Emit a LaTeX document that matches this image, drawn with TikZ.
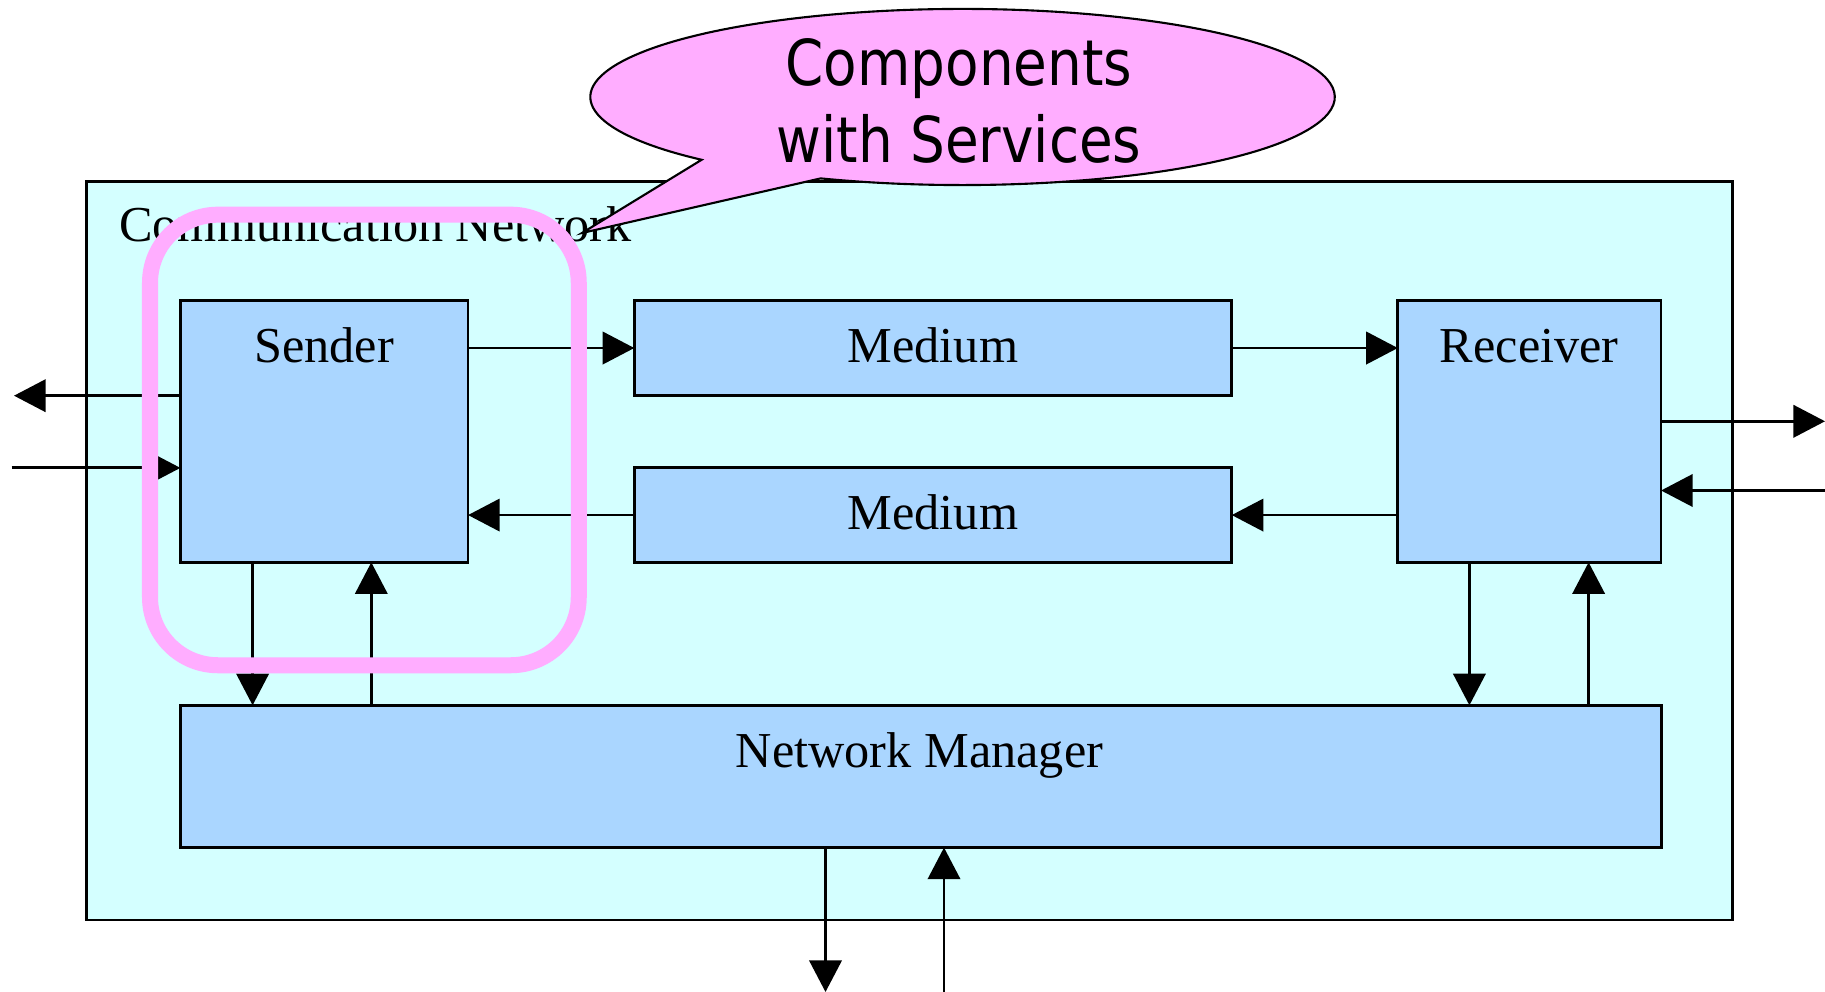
\documentclass[tikz,border=0pt]{standalone}
\usepackage{fontspec}
\setmainfont{Liberation Serif}
\newfontfamily\bubblefont[FakeStretch=0.866]{DejaVu Sans}
\usetikzlibrary{arrows.meta,calc}
\definecolor{netbg}{HTML}{D4FFFF}
\definecolor{boxfill}{HTML}{AAD6FF}
\definecolor{hilite}{HTML}{FFADFF}

\begin{document}
\begin{tikzpicture}[x=0.01cm,y=0.01cm,
  frame/.style={draw=black, line width=0.8pt, inner sep=0pt, outer sep=0pt, anchor=north west},
  box/.style={frame, fill=boxfill},
  lbl/.style={font=\fontsize{14.3}{17}\selectfont, anchor=base, inner sep=0pt},
  arr/.style={line width=0.8pt, -{Triangle[length=9pt,width=9.2pt]}}]

\useasboundingbox (0,0) rectangle (1825,-992);

% enclosing network
\node[frame, fill=netbg, minimum width=16.458cm, minimum height=7.379cm] (net) at (86.1,-181.6) {};
\node[lbl, anchor=base west] (netlbl) at (118.5,-241.7) {Communication Network};

% components
\node[box, minimum width=2.875cm, minimum height=2.619cm] (sender) at (180.4,-300.3) {};
\node[box, minimum width=5.971cm, minimum height=0.954cm] (m1) at (634.3,-300.3) {};
\node[box, minimum width=5.971cm, minimum height=0.943cm] (m2) at (634.3,-467.9) {};
\node[box, minimum width=2.631cm, minimum height=2.619cm] (recv) at (1397.8,-300.3) {};
\node[box, minimum width=14.805cm, minimum height=1.422cm] (nm) at (180.4,-705.3) {};

\node[lbl] (senderlbl) at (324.1,-363) {Sender};
\node[lbl] (m1lbl) at (932.9,-363) {Medium};
\node[lbl] (m2lbl) at (932.9,-530) {Medium};
\node[lbl] (recvlbl) at (1529.3,-363) {Receiver};
\node[lbl] (nmlbl) at (919.5,-767.3) {Network Manager};

% data flow between components
\draw[arr] (sender.east |- m1.west) -- (m1.west);
\draw[arr] (m1.east) -- (recv.west |- m1.east);
\draw[arr] (recv.west |- m2.east) -- (m2.east);
\draw[arr] (m2.west) -- (sender.east |- m2.west);

% links to the network manager
\coordinate (sd) at (252.6,0);
\coordinate (su) at (371.3,0);
\coordinate (rd) at (1469.4,0);
\coordinate (ru) at (1588.6,0);
\draw[arr] (sender.south -| sd) -- (nm.north -| sd);
\draw[arr] (nm.north -| su) -- (sender.south -| su);
\draw[arr] (recv.south -| rd) -- (nm.north -| rd);
\draw[arr] (nm.north -| ru) -- (recv.south -| ru);

% external interfaces
\coordinate (sOut) at (14,-395.7);
\coordinate (sIn) at (11.6,-467.9);
\coordinate (rOut) at (1825,-421.3);
\coordinate (rIn) at (1825,-490.5);
\coordinate (nOut) at (825.5,-992);
\coordinate (nIn) at (944,-992);
\draw[arr] (sender.west |- sOut) -- (sOut);
\draw[arr] (sIn) -- (sender.west |- sIn);
\draw[arr] (recv.east |- rOut) -- (rOut);
\draw[arr] (rIn) -- (recv.east |- rIn);
\draw[arr] (nm.south -| nOut) -- (nOut);
\draw[arr] (nIn) -- (nm.south -| nIn);

% highlighted component
\node[draw=hilite, line width=0.16cm, rounded corners=0.68cm, inner sep=0pt, outer sep=0pt,
      minimum width=4.285cm, minimum height=4.503cm, anchor=north west] (group) at (150,-214.7) {};

% speech bubble
\coordinate (bc) at (962.5,-97);
\coordinate (tip) at (582,-233);
\filldraw[fill=hilite, draw=black, line width=0.6pt]
  ($(bc)+(247.6:3.72cm and 0.88cm)$)
  arc[start angle=247.6, end angle=585.5, x radius=3.72cm, y radius=0.88cm]
  -- (tip) -- cycle;
\node[font=\bubblefont\fontsize{18}{21.8}\selectfont, align=center, inner sep=0pt] (bubble) at (959,-101)
  {Components\\with Services};

\end{tikzpicture}
\end{document}
